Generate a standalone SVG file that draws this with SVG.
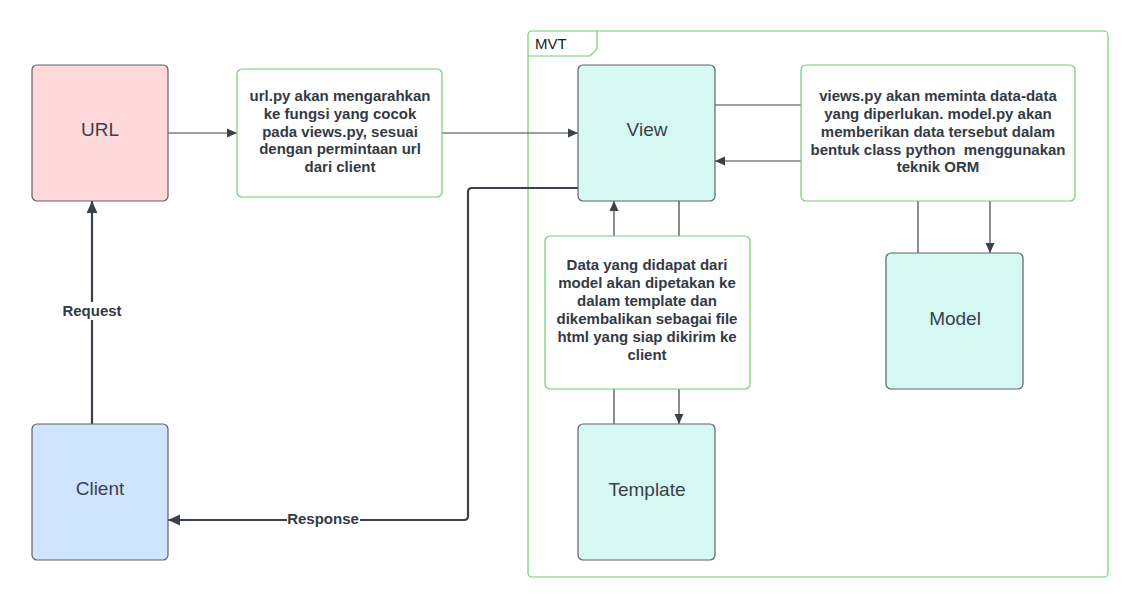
<svg xmlns="http://www.w3.org/2000/svg" width="1137" height="610" viewBox="0 0 1137 610">
<defs>
<marker id="ah" viewBox="0 0 10 10" refX="10" refY="5" markerWidth="10" markerHeight="10" markerUnits="userSpaceOnUse" orient="auto">
<path d="M0,0.5 L10,5 L0,9.5 Z" fill="#3a414a"/>
</marker>
<marker id="ahb" viewBox="0 0 10 10" refX="10" refY="5" markerWidth="12" markerHeight="12" markerUnits="userSpaceOnUse" orient="auto">
<path d="M0,0.5 L10,5 L0,9.5 Z" fill="#3a414a"/>
</marker>
</defs>
<style>
.box{stroke:#5e6166;stroke-width:1.2}
.note{fill:#ffffff;stroke:#6fd06f;stroke-width:1.2}
.lbl{font-family:"Liberation Sans",Arial,sans-serif;font-size:19px;fill:#3a414a;text-anchor:middle}
.nt{font-family:"Liberation Sans",Arial,sans-serif;font-size:15px;font-weight:bold;fill:#333a45;text-anchor:middle}
.c{fill:none;stroke:#3a414a;stroke-width:1.2}
.cb{fill:none;stroke:#3a414a;stroke-width:2.2}
.el{font-family:"Liberation Sans",Arial,sans-serif;font-size:15px;font-weight:bold;fill:#333a45;text-anchor:middle}
</style>
<rect width="1137" height="610" fill="#ffffff"/>
<g id="mvt">
<rect x="528" y="31" width="580" height="546" rx="4" fill="none" stroke="#6fd06f" stroke-width="1.2"/>
<path d="M528,56 L590,56 L597,49 L597,31" fill="none" stroke="#6fd06f" stroke-width="1.2"/>
<text x="535" y="49" font-family="Liberation Sans,Arial,sans-serif" font-size="15" fill="#222">MVT</text>
</g>
<g id="connectors">
<line class="c" x1="168" y1="133" x2="237" y2="133" marker-end="url(#ah)"/>
<line class="c" x1="442" y1="133" x2="578" y2="133" marker-end="url(#ah)"/>
<line class="c" x1="715" y1="105" x2="801" y2="105"/>
<line class="c" x1="801" y1="161" x2="715" y2="161" marker-end="url(#ah)"/>
<line class="c" x1="918" y1="201" x2="918" y2="253"/>
<line class="c" x1="990" y1="201" x2="990" y2="253" marker-end="url(#ah)"/>
<line class="c" x1="614" y1="236" x2="614" y2="201" marker-end="url(#ah)"/>
<line class="c" x1="679" y1="201" x2="679" y2="236"/>
<line class="c" x1="614" y1="389" x2="614" y2="424"/>
<line class="c" x1="679" y1="389" x2="679" y2="424" marker-end="url(#ah)"/>
<path class="cb" d="M578,188 L472,188 Q468,188 468,192 L468,516 Q468,520 464,520 L168,520" marker-end="url(#ahb)"/>
<line class="cb" x1="92" y1="424" x2="92" y2="201" marker-end="url(#ahb)"/>
<rect x="287" y="510" width="73" height="18" fill="#ffffff"/>
<text class="el" x="323" y="524">Response</text>
<rect x="61" y="302" width="62" height="18" fill="#ffffff"/>
<text class="el" x="92" y="316">Request</text>
</g>
<g id="url">
<rect class="box" x="32" y="65" width="136" height="136" rx="5" fill="#ffd9d9"/>
<text class="lbl" x="100" y="136">URL</text>
</g>
<g id="client">
<rect class="box" x="32" y="424" width="136" height="136" rx="5" fill="#cfe4ff"/>
<text class="lbl" x="100" y="495">Client</text>
</g>
<g id="note-url">
<rect class="note" x="237" y="69" width="205" height="128" rx="5"/>
<text class="nt" x="340" y="101">url.py akan mengarahkan</text>
<text class="nt" x="340" y="119">ke fungsi yang cocok</text>
<text class="nt" x="340" y="137">pada views.py, sesuai</text>
<text class="nt" x="340" y="154">dengan permintaan url</text>
<text class="nt" x="340" y="172">dari client</text>
</g>
<g id="view">
<rect class="box" x="578" y="65" width="137" height="136" rx="5" fill="#d6f8f3"/>
<text class="lbl" x="647" y="136">View</text>
</g>
<g id="note-views">
<rect class="note" x="801" y="65" width="274" height="136" rx="5"/>
<text class="nt" x="938" y="101">views.py akan meminta data-data</text>
<text class="nt" x="938" y="119">yang diperlukan. model.py akan</text>
<text class="nt" x="938" y="137">memberikan data tersebut dalam</text>
<text class="nt" x="938" y="155" style="white-space:pre">bentuk class python  menggunakan</text>
<text class="nt" x="938" y="172">teknik ORM</text>
</g>
<g id="model">
<rect class="box" x="886" y="253" width="137" height="136" rx="5" fill="#d6f8f3"/>
<text class="lbl" x="955" y="325">Model</text>
</g>
<g id="note-data">
<rect class="note" x="545" y="236" width="205" height="153" rx="5"/>
<text class="nt" x="647" y="270">Data yang didapat dari</text>
<text class="nt" x="647" y="288">model akan dipetakan ke</text>
<text class="nt" x="647" y="306">dalam template dan</text>
<text class="nt" x="647" y="324">dikembalikan sebagai file</text>
<text class="nt" x="647" y="342">html yang siap dikirim ke</text>
<text class="nt" x="647" y="360">client</text>
</g>
<g id="template">
<rect class="box" x="578" y="424" width="137" height="136" rx="5" fill="#d6f8f3"/>
<text class="lbl" x="647" y="496">Template</text>
</g>
</svg>
